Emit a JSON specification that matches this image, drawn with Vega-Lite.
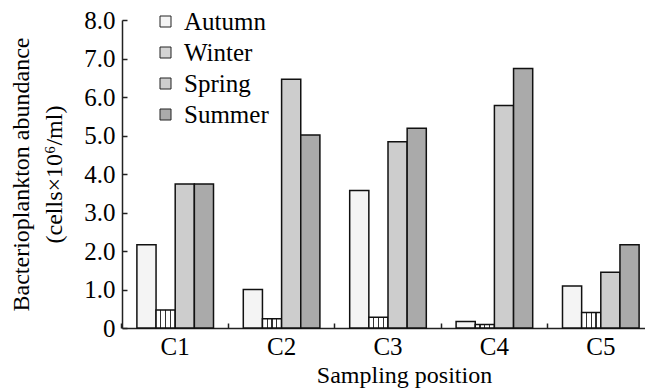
{
  "$schema": "https://vega.github.io/schema/vega-lite/v6.json",
  "width": 532,
  "height": 308,
  "autosize": {"type": "none"},
  "padding": {"left": 122, "top": 20, "right": 0, "bottom": 62},
  "background": "white",
  "config": {
    "font": "Liberation Serif",
    "view": {"stroke": null},
    "axis": {
      "domainColor": "#222",
      "domainWidth": 1.5,
      "tickColor": "#222",
      "tickWidth": 1.5,
      "labelColor": "black",
      "titleColor": "black",
      "labelFontSize": 25,
      "titleFontSize": 24,
      "titleFontWeight": "normal",
      "grid": false
    }
  },
  "data": {
    "values": [
      {"position": "C1", "season": "Autumn", "abundance": 2.16},
      {"position": "C1", "season": "Winter", "abundance": 0.47},
      {"position": "C1", "season": "Spring", "abundance": 3.74},
      {"position": "C1", "season": "Summer", "abundance": 3.74},
      {"position": "C2", "season": "Autumn", "abundance": 1.0},
      {"position": "C2", "season": "Winter", "abundance": 0.24},
      {"position": "C2", "season": "Spring", "abundance": 6.46},
      {"position": "C2", "season": "Summer", "abundance": 5.01},
      {"position": "C3", "season": "Autumn", "abundance": 3.57},
      {"position": "C3", "season": "Winter", "abundance": 0.28},
      {"position": "C3", "season": "Spring", "abundance": 4.84},
      {"position": "C3", "season": "Summer", "abundance": 5.19},
      {"position": "C4", "season": "Autumn", "abundance": 0.17},
      {"position": "C4", "season": "Winter", "abundance": 0.09},
      {"position": "C4", "season": "Spring", "abundance": 5.78},
      {"position": "C4", "season": "Summer", "abundance": 6.74},
      {"position": "C5", "season": "Autumn", "abundance": 1.09},
      {"position": "C5", "season": "Winter", "abundance": 0.4},
      {"position": "C5", "season": "Spring", "abundance": 1.45},
      {"position": "C5", "season": "Summer", "abundance": 2.16}
    ]
  },
  "mark": {"type": "bar", "stroke": "#111", "strokeWidth": 1.5},
  "encoding": {
    "x": {
      "field": "position",
      "type": "nominal",
      "scale": {"paddingInner": 0.28, "paddingOuter": 0.14},
      "axis": {
        "title": "Sampling position",
        "labelAngle": 0,
        "bandPosition": -0.195,
        "tickSize": -5,
        "labelPadding": 11,
        "titleX": 282,
        "titleY": 54,
        "titleBaseline": "alphabetic",
        "titleAnchor": "middle"
      }
    },
    "xOffset": {
      "field": "season",
      "type": "nominal",
      "sort": ["Autumn", "Winter", "Spring", "Summer"],
      "scale": {"paddingInner": 0, "paddingOuter": 0}
    },
    "y": {
      "field": "abundance",
      "type": "quantitative",
      "scale": {"domain": [0, 8], "nice": false},
      "axis": {
        "title": ["Bacterioplankton abundance", "(cells×10⁶/ml)"],
        "values": [0, 1, 2, 3, 4, 5, 6, 7, 8],
        "labelExpr": "datum.value == 0 ? '0' : format(datum.value, '.1f')",
        "tickSize": -5,
        "labelPadding": 12,
        "titleLineHeight": 33,
        "titlePadding": 17
      }
    },
    "fill": {
      "condition": {
        "test": "datum.season === 'Winter'",
        "value": {"gradient": "linear", "x1": 0, "y1": 0, "x2": 1, "y2": 0, "stops": [
          {"offset": 0, "color": "#ffffff"},
          {"offset": 0.22, "color": "#ffffff"},
          {"offset": 0.22, "color": "#333333"},
          {"offset": 0.28, "color": "#333333"},
          {"offset": 0.28, "color": "#ffffff"},
          {"offset": 0.47, "color": "#ffffff"},
          {"offset": 0.47, "color": "#333333"},
          {"offset": 0.53, "color": "#333333"},
          {"offset": 0.53, "color": "#ffffff"},
          {"offset": 0.72, "color": "#ffffff"},
          {"offset": 0.72, "color": "#333333"},
          {"offset": 0.78, "color": "#333333"},
          {"offset": 0.78, "color": "#ffffff"},
          {"offset": 1, "color": "#ffffff"}
        ]}
      },
      "field": "season",
      "type": "nominal",
      "sort": ["Autumn", "Winter", "Spring", "Summer"],
      "scale": {
        "domain": ["Autumn", "Winter", "Spring", "Summer"],
        "range": ["#f4f4f4", "#d4d4d4", "#cdcdcd", "#aaaaaa"]
      },
      "legend": {
        "title": null,
        "orient": "none",
        "legendX": 31,
        "legendY": -11,
        "symbolType": "square",
        "symbolSize": 121,
        "symbolStrokeColor": "#222",
        "symbolStrokeWidth": 1,
        "labelFontSize": 25,
        "labelColor": "black",
        "labelOffset": 6,
        "rowPadding": 5
      }
    }
  }
}
